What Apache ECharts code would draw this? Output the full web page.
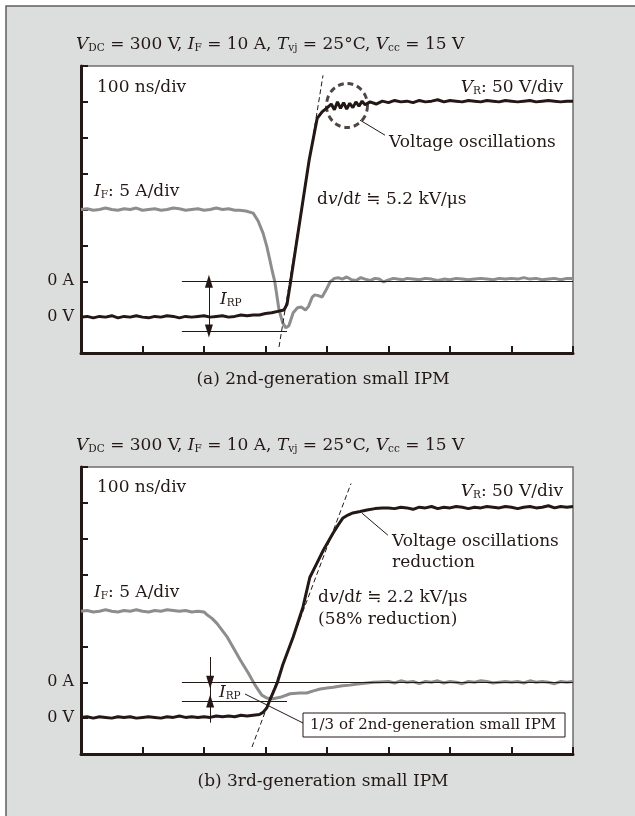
<!DOCTYPE html>
<html><head><meta charset="utf-8">
<script src="https://cdn.jsdelivr.net/npm/echarts@6/dist/echarts.min.js"></script>
<style>html,body{margin:0;padding:0;background:#fff}#c{width:635px;height:816px}</style>
</head><body><div id="c"></div>
<script>
// ---------- DATA (time in ns, V_R in volts, I_F in amperes) ----------
const topVTime = [0,10,20,30,40,50,60,70,80,90,100,110,120,130,140,150,160,170,180,190,200,210,220,230,240,250,260,270,280,290,300,310,320,330,
  335,340,348,361,371,384,392,402,
  407,412,417,422,427,432,437,442,447,452,457,462,
  470,480,490,500,510,520,530,540,550,560,570,580,590,600,610,620,630,640,650,660,670,680,690,700,710,720,730,740,750,760,770,780,790,800];
const topVR = [0,1,-1,1,0,2,-1,1,0,2,0,-1,1,0,2,1,-1,1,0,1,2,0,1,2,0,1,3,2,3,3,5,6,8,10,
  18,45,90,163,219,277,286,293,
  297,289,300,291,299,290,298,292,300,294,301,296,
  300,297,301,299,302,300,301,299,302,300,301,303,300,302,301,300,302,301,300,302,301,300,302,301,300,301,302,300,301,302,301,300,301,301];

const topITime = [0,10,20,30,40,50,60,70,80,90,100,110,120,130,140,150,160,170,180,190,200,210,220,230,240,250,
  258,268,280,288,296,302,307,311,315,322,328,333,338,345,352,358,365,370,376,380,386,392,398,405,412,418,425,432,440,447,455,462,470,478,485,492,500,508,515,523,530,
  540,550,560,570,580,590,600,610,620,630,640,650,660,670,680,690,700,710,720,730,740,750,760,770,780,790,800];
const topIF = [10.0,10.1,9.9,10.0,10.2,10.0,9.9,10.1,10.0,10.2,9.9,10.0,10.1,9.9,10.0,10.2,10.1,9.9,10.0,10.1,9.9,10.0,10.2,10.0,10.1,9.9,
  9.9,9.8,9.5,8.4,6.7,4.9,3.0,1.4,0.0,-4.0,-5.8,-6.5,-6.2,-4.4,-3.7,-3.6,-4.0,-3.5,-2.2,-1.9,-2.0,-2.2,-1.3,-0.1,0.4,0.5,0.3,0.6,0.2,0.1,0.5,0.3,0.1,0.4,0.3,-0.1,0.2,0.4,0.3,0.2,0.4,
  0.3,0.2,0.4,0.3,0.1,0.3,0.2,0.4,0.3,0.2,0.3,0.4,0.3,0.2,0.4,0.3,0.4,0.3,0.5,0.3,0.4,0.2,0.3,0.4,0.2,0.4,0.4];

const botVTime = [0,10,20,30,40,50,60,70,80,90,100,110,120,130,140,150,160,170,180,190,200,210,220,230,240,250,260,270,280,290,
  296,302,307,313,319,328,345,361,372,383,394,410,418,426,434,442,454,465,478,490,
  500,510,520,530,540,550,560,570,580,590,600,610,620,630,640,650,660,670,680,690,700,710,720,730,740,750,760,770,780,790,800];
const botVR = [1,2,0,2,1,0,2,1,2,0,1,2,1,0,2,1,3,1,2,1,2,1,3,2,3,2,4,3,4,5,
  8,14,25,37,49,74,113,155,196,215,234,258,269,279,283,286,288,290,292,293,
  293,292,294,293,291,294,293,295,292,294,293,295,294,292,294,293,295,294,293,295,294,292,294,295,293,294,296,293,295,294,295];

const botITime = [0,10,20,30,40,50,60,70,80,90,100,110,120,130,140,150,160,170,180,190,
  200,205,213,221,229,237,247,259,272,283,294,302,312,324,340,356,367,378,389,400,410,425,437,450,465,475,486,
  500,510,520,530,540,550,560,570,580,590,600,610,620,630,640,650,660,670,680,690,700,710,720,730,740,750,760,770,780,790,800];
const botIF = [9.9,10.0,9.8,9.9,10.1,9.9,9.8,10.0,9.9,10.1,9.9,9.8,10.0,9.9,10.1,10.0,9.9,10.0,9.8,9.9,
  9.8,9.4,8.9,8.2,7.3,6.4,4.9,3.1,1.3,-0.4,-1.8,-2.2,-2.3,-2.1,-1.6,-1.5,-1.5,-1.2,-0.95,-0.8,-0.7,-0.5,-0.4,-0.25,-0.1,0.0,0.05,
  0.1,-0.1,0.2,0.0,0.1,-0.2,0.1,0.0,0.2,-0.1,0.1,0.0,-0.2,0.1,0.0,0.2,0.1,-0.1,0.0,0.1,0.0,0.1,-0.1,0.2,0.0,0.1,0.0,-0.2,0.1,0.0,0.1];

// axis scale (per division): 100 ns, 50 V, 5 A
const timeAxis = {min: 0, max: 800, step: 100};
const voltAxis = {min: -50, max: 350, step: 50};
const currAxis = {min: -10, max: 30, step: 5};

// annotation anchors (data units)
const annTop = {
  tangent: [[322, -41.6], [393.5, 337]],
  leader: [[453.7, 274.5], [494.3, 253.6]],
  circle: [432.5, 295],
  irpLow: -6.94, irpX: 208, refStart: 164, refEndLow: 335
};
const annBot = {
  tangent: [[278, -40.3], [439, 327]],
  leader: [[457, 285.6], [499, 255]],
  irpLow: -2.62, irpX: 210, refStart: 164, refEndLow: 335,
  arrowTop: 3.51, arrowBot: -5.6,
  boxLeader: [[266.7, -1.64], [361, -5.68]]
};

// ---------- STYLE ----------
const FONT = 'DejaVu Serif';
const INK = '#231815';
const GRAY = '#8d8d8d';
const zip = (a, b) => a.map((t, i) => [t, b[i]]);

const chart = echarts.init(document.getElementById('c'), null, {renderer: 'canvas'});

function grid(top) {
  return {left: 81, top: top, width: 492, height: 287, show: true, backgroundColor: '#ffffff',
    borderColor: '#6e6e6e', borderWidth: 1.5, containLabel: false};
}
function xAx(gi) {
  return {gridIndex: gi, type: 'value', min: timeAxis.min, max: timeAxis.max, interval: timeAxis.step,
    axisLine: {onZero: false, lineStyle: {color: INK, width: 3}},
    axisTick: {inside: true, length: 7, lineStyle: {color: INK, width: 2}},
    axisLabel: {show: false}, splitLine: {show: false}};
}
function yVolt(gi) {
  return {gridIndex: gi, type: 'value', position: 'left', min: voltAxis.min, max: voltAxis.max, interval: voltAxis.step,
    axisLine: {show: true, onZero: false, lineStyle: {color: INK, width: 3}},
    axisTick: {show: true, inside: true, length: 7, lineStyle: {color: INK, width: 2}},
    axisLabel: {formatter: v => (v === 0 ? '0 V' : ''), color: INK, fontFamily: FONT, fontSize: 16, margin: 7},
    splitLine: {show: false}};
}
function yCurr(gi) {
  return {gridIndex: gi, type: 'value', position: 'left', min: currAxis.min, max: currAxis.max, interval: currAxis.step,
    axisLine: {show: false, onZero: false}, axisTick: {show: false},
    axisLabel: {formatter: v => (v === 0 ? '0 A' : ''), color: INK, fontFamily: FONT, fontSize: 16, margin: 7},
    splitLine: {show: false}};
}

const ML_BASE = {silent: true, animation: false, symbol: ['none', 'none'], label: {show: false},
  emphasis: {disabled: true}};
const seg = (p, q, extraEnd) => [{coord: p}, Object.assign({coord: q}, extraEnd || {})];

function panelSeries(gi, vTime, vr, iTime, iF, ann, isTop) {
  const xi = gi, yv = gi * 2, yi = gi * 2 + 1;
  const s = [];
  s.push({type: 'line', xAxisIndex: xi, yAxisIndex: yv, data: [], z: 1,
    markLine: Object.assign({}, ML_BASE, {lineStyle: {color: INK, width: 1, type: [5, 3]},
      data: [seg(ann.tangent[0], ann.tangent[1])]})});
  s.push({type: 'line', xAxisIndex: xi, yAxisIndex: yv, data: [], z: 1,
    markLine: Object.assign({}, ML_BASE, {lineStyle: {color: INK, width: 1, type: 'solid'},
      data: [seg(ann.leader[0], ann.leader[1])]})});
  const cur = [
    seg([ann.refStart, 0], [timeAxis.max, 0]),
    seg([ann.refStart, ann.irpLow], [ann.refEndLow, ann.irpLow])
  ];
  if (isTop) {
    cur.push([{coord: [ann.irpX, 0], symbol: 'triangle', symbolSize: [8, 13]},
              {coord: [ann.irpX, ann.irpLow], symbol: 'triangle', symbolSize: [8, 13]}]);
  } else {
    cur.push(seg([ann.irpX, ann.arrowTop], [ann.irpX, ann.arrowBot]));
    cur.push(seg([ann.irpX, ann.arrowTop], [ann.irpX, 0], {symbol: 'triangle', symbolSize: [8, 13]}));
    cur.push(seg([ann.irpX, ann.arrowBot], [ann.irpX, ann.irpLow], {symbol: 'triangle', symbolSize: [8, 13]}));
    cur.push(seg(ann.boxLeader[0], ann.boxLeader[1]));
  }
  s.push({type: 'line', xAxisIndex: xi, yAxisIndex: yi, data: [], z: 1,
    markLine: Object.assign({}, ML_BASE, {lineStyle: {color: INK, width: 1, type: 'solid'},
      itemStyle: {color: INK}, data: cur})});
  if (isTop) {
    s.push({type: 'scatter', xAxisIndex: xi, yAxisIndex: yv, data: [ann.circle], z: 5, silent: true,
      symbol: 'circle', symbolSize: [41, 44],
      itemStyle: {color: 'rgba(0,0,0,0)', borderColor: INK, borderWidth: 3, borderType: [6, 4]}});
  }
  s.push({type: 'line', xAxisIndex: xi, yAxisIndex: yi, data: zip(iTime, iF), z: 3,
    showSymbol: false, silent: true, lineStyle: {color: GRAY, width: 3}});
  s.push({type: 'line', xAxisIndex: xi, yAxisIndex: yv, data: zip(vTime, vr), z: 4,
    showSymbol: false, silent: true, lineStyle: {color: INK, width: 3}});
  return s;
}

function makeRich(fs, ss) {
  return {
    n: {fill: INK, color: INK, fontFamily: FONT, fontSize: fs, verticalAlign: 'bottom'},
    i: {fill: INK, color: INK, fontFamily: FONT, fontSize: fs, fontStyle: 'italic', verticalAlign: 'bottom'},
    s: {fill: INK, color: INK, fontFamily: FONT, fontSize: ss, verticalAlign: 'bottom'}
  };
}
const rich17 = makeRich(17, 10.5);
const rich15 = makeRich(15, 10);
function txt(x, y, text, align, rich) {
  rich = rich || rich17;
  return {type: 'text', x: x, y: y, z: 100, silent: true,
    style: {text: text, rich: rich, fill: INK, fontFamily: FONT, fontSize: 17,
      align: align || 'left', verticalAlign: 'middle'}};
}
const header = '{i|V}{s|DC}{n| = 300 V, }{i|I}{s|F}{n| = 10 A, }{i|T}{s|vj}{n| = 25°C, }{i|V}{s|cc}{n| = 15 V}';

const graphics = [
  {type: 'rect', shape: {x: 0, y: 0, width: 635, height: 6}, style: {fill: '#ffffff'}, silent: true},
  {type: 'rect', shape: {x: 0, y: 0, width: 6, height: 816}, style: {fill: '#ffffff'}, silent: true},
  {type: 'polyline', shape: {points: [[6, 816], [6, 6], [635, 6]]}, style: {stroke: '#5f5f5f', lineWidth: 1.5, fill: null}, silent: true},
  // top panel
  txt(76, 45, header),
  txt(97, 88, '{n|100 ns/div}'),
  txt(563, 88, '{i|V}{s|R}{n|: 50 V/div}', 'right'),
  txt(94, 192, '{i|I}{s|F}{n|: 5 A/div}'),
  txt(389, 143, '{n|Voltage oscillations}'),
  txt(317, 200, '{n|d}{i|v}{n|/d}{i|t}{n| ≒ 5.2 kV/μs}'),
  txt(220, 300, '{i|I}{s|RP}'),
  txt(323, 380, '{n|(a) 2nd-generation small IPM}', 'center'),
  // bottom panel
  txt(76, 446, header),
  txt(97, 488, '{n|100 ns/div}'),
  txt(563, 492, '{i|V}{s|R}{n|: 50 V/div}', 'right'),
  txt(94, 593, '{i|I}{s|F}{n|: 5 A/div}'),
  txt(392, 542, '{n|Voltage oscillations}'),
  txt(392, 563, '{n|reduction}'),
  txt(318, 598, '{n|d}{i|v}{n|/d}{i|t}{n| ≒ 2.2 kV/μs}'),
  txt(318, 620, '{n|(58% reduction)}'),
  txt(219, 693, '{i|I}{s|RP}'),
  {type: 'rect', z: 99, silent: true, shape: {x: 303, y: 713, width: 262, height: 24},
    style: {fill: '#ffffff', stroke: INK, lineWidth: 1}},
  txt(310, 725, '{n|1/3 of 2nd-generation small IPM}', 'left', rich15),
  txt(323, 782, '{n|(b) 3rd-generation small IPM}', 'center')
];

chart.setOption({
  animation: false,
  backgroundColor: '#dcdddd',
  grid: [grid(66), grid(467)],
  xAxis: [xAx(0), xAx(1)],
  yAxis: [yVolt(0), yCurr(0), yVolt(1), yCurr(1)],
  series: [].concat(
    panelSeries(0, topVTime, topVR, topITime, topIF, annTop, true),
    panelSeries(1, botVTime, botVR, botITime, botIF, annBot, false)
  ),
  graphic: graphics
});
</script></body></html>
